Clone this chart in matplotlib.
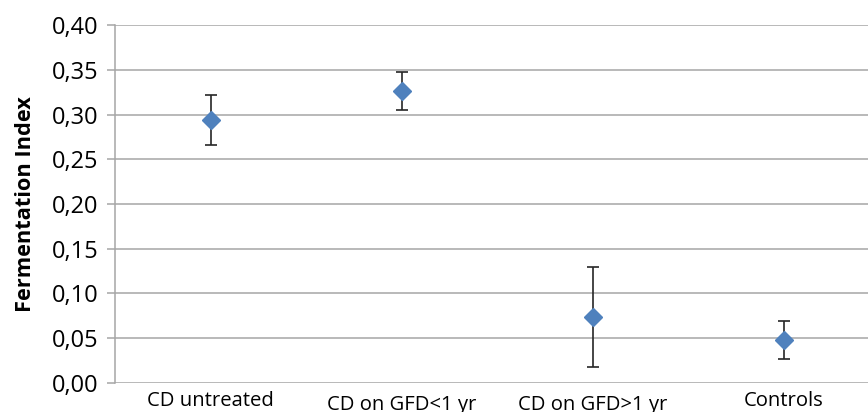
import matplotlib
matplotlib.use("Agg")
import matplotlib.pyplot as plt
from matplotlib.ticker import FuncFormatter

groups = ["CD untreated", "CD on GFD<1 yr", "CD on GFD>1 yr", "Controls"]
fermentation = [0.294, 0.326, 0.074, 0.048]
err = [0.028, 0.021, 0.056, 0.0215]
label_drop = [0, 3.5, 3.5, 0]   # the two middle labels sit a bit lower

plt.rcParams['font.family'] = ['Open Sans', 'DejaVu Sans']

fig = plt.figure(figsize=(8.68, 4.12), dpi=100)
ax = fig.add_axes([0.1325, 0.0704, 0.8802, 0.8689])

x = list(range(len(groups)))
ax.errorbar(x, fermentation, yerr=err, fmt='D', color='#4F81BD', ms=9.5,
            mec='#4F81BD', ecolor='#262626', elinewidth=1.2, capsize=4.5,
            capthick=1.2, zorder=3)

ax.set_xlim(-0.5, 3.5)
ax.set_ylim(0, 0.40)
ax.set_yticks([i * 0.05 for i in range(9)])
ax.yaxis.set_major_formatter(FuncFormatter(lambda v, p: f"{v:.2f}".replace('.', ',')))
ax.grid(axis='y', color='#A6A6A6', lw=1.1)
ax.set_axisbelow(True)

for s in ['top', 'right', 'bottom']:
    ax.spines[s].set_visible(False)
ax.spines['left'].set_color('#A6A6A6')
ax.spines['left'].set_linewidth(1.1)

ax.tick_params(axis='y', length=6, width=1.1, color='#A6A6A6', labelsize=17, pad=6)
ax.set_xticks([])
for i, g in enumerate(groups):
    ax.annotate(g, xy=(i, 0), xycoords='data', xytext=(0, -5.5 - label_drop[i]),
                textcoords='offset points', ha='center', va='top', fontsize=14.6)

ax.set_ylabel("Fermentation Index", fontsize=15.7, fontweight='bold', labelpad=11)

fig.savefig("out.png", dpi=100)
